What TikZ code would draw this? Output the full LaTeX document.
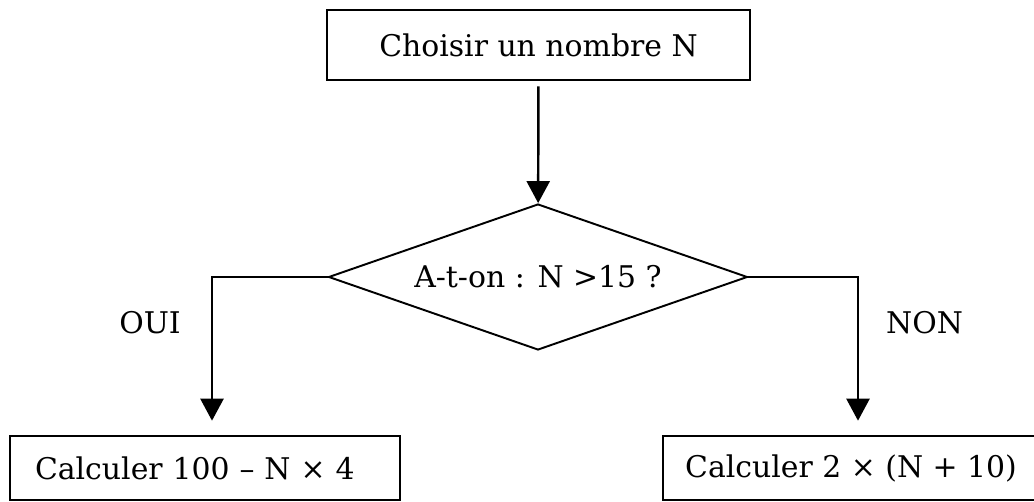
\documentclass[tikz,border=0pt]{standalone}
\usepackage{fontspec}
\setmainfont{DejaVu Serif}
\usetikzlibrary{shapes.geometric, arrows.meta, positioning}

\begin{document}
\begin{tikzpicture}[
        x=0.02cm,
        y=-0.02cm,
        boite/.style={draw, line width=1.5pt, fill=white, inner sep=0pt,
                      minimum height=1.28cm, font=\fontsize{17}{20}\selectfont},
        losange/.style={draw, diamond, aspect=2.87, line width=1.1pt, inner sep=0pt,
                        font=\fontsize{17}{20}\selectfont},
        fleche/.style={-{Triangle[length=0.44cm, width=0.46cm]}, line width=1.4pt},
        rep/.style={font=\fontsize{17}{20}\selectfont, inner sep=0pt}
    ]
        \useasboundingbox (0,0) rectangle (1034,502);

        % === NOEUDS ===
        \node[boite, minimum width=8.46cm, minimum height=1.4cm] (choix) at (538.5,45) {Choisir un nombre N};
        \node[losange, minimum width=8.38cm, minimum height=2.92cm] (test) at (538,277) {A-t-on : N >15 ?};
        % Branches
        \node[boite, minimum width=7.8cm, text width=6.8cm, inner xsep=0.5cm, align=left] (calcA) at (205,468) {Calculer 100 – N × 4};
        \node[boite, minimum width=7.52cm] (calcB) at (851,468) {Calculer 2 × (N + 10)};

        % === LIAISONS ===
        \draw[fleche, shorten <=0.1cm] (choix) -- (test);
        \draw[fleche] (test.west) -| node[rep, pos=0.66, left=0.6cm] {OUI} ([xshift=0.14cm, yshift=0.28cm]calcA.north);
        \draw[fleche] (test.east) -| node[rep, pos=0.66, right=0.54cm] {NON} ([xshift=0.14cm, yshift=0.28cm]calcB.north);
    \end{tikzpicture}
\end{document}
